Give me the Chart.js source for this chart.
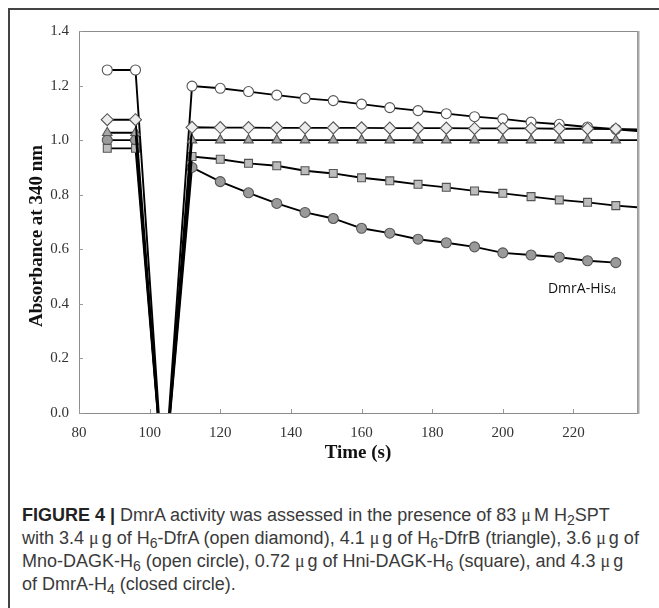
<!DOCTYPE html>
<html lang="en">
  <head>
    <meta charset="UTF-8" />
    <script src="https://cdn.jsdelivr.net/npm/chart.js@4/dist/chart.umd.min.js"></script>
    <title>DmrA activity</title>
    <style>
      body { margin: 0; background: #fff; width: 659px; height: 608px; overflow: hidden; position: relative; }
      #frame { position: absolute; left: 8px; top: 8px; width: 660px; height: 610px;
               border-top: 2px solid #444; border-left: 2px solid #444; }
      #chart { position: absolute; left: 0; top: 0; }
      #caption { position: absolute; left: 22px; top: 504px; font-family: "Liberation Sans", Arial, sans-serif;
                 font-size: 18px; line-height: 23px; color: #3a3a3a; white-space: nowrap; }
      #caption b { font-weight: 700; color: #222; }
      #caption sub { font-size: 0.78em; vertical-align: -0.3em; line-height: 0; }
      .mu { font-family: "Liberation Serif", serif; margin-right: 3px; }
    </style>
  </head>
  <body>
    <div id="frame"></div>
    <canvas id="chart" width="659" height="470"></canvas>
    <div id="caption"><b>FIGURE 4 |</b> DmrA activity was assessed in the presence of 83 <span class="mu">μ</span>M H<sub>2</sub>SPT<br>with 3.4 <span class="mu">μ</span>g of H<sub>6</sub>-DfrA (open diamond), 4.1 <span class="mu">μ</span>g of H<sub>6</sub>-DfrB (triangle), 3.6 <span class="mu">μ</span>g of<br>Mno-DAGK-H<sub>6</sub> (open circle), 0.72 <span class="mu">μ</span>g of Hni-DAGK-H<sub>6</sub> (square), and 4.3 <span class="mu">μ</span>g<br>of DmrA-H<sub>4</sub> (closed circle).</div>
    <script>
      // time points (s); 104 is the off-scale dip while reagent was added
      const times = [88, 96, 104, 112, 120, 128, 136, 144, 152, 160, 168, 176, 184, 192, 200, 208, 216, 224, 232, 240];
      const dfrA = [1.075, 1.075, -0.27, 1.047, 1.046, 1.046, 1.045, 1.045, 1.045, 1.045, 1.044, 1.044, 1.044, 1.043, 1.043, 1.043, 1.042, 1.042, 1.041, 1.038];
      const dfrB = [1.027, 1.027, -0.27, 1.0, 1.0, 1.0, 1.0, 1.0, 1.0, 1.0, 1.0, 1.0, 1.0, 1.0, 1.0, 1.0, 1.0, 1.0, 1.0, 1.0];
      const mnoDagk = [1.257, 1.257, -0.27, 1.198, 1.19, 1.178, 1.165, 1.153, 1.145, 1.132, 1.119, 1.108, 1.097, 1.086, 1.078, 1.066, 1.058, 1.048, 1.04, 1.031];
      const hniDagk = [0.97, 0.97, -0.27, 0.94, 0.93, 0.915, 0.906, 0.888, 0.878, 0.862, 0.851, 0.838, 0.827, 0.814, 0.805, 0.793, 0.781, 0.772, 0.76, 0.752];
      const dmrA = [1.0, 1.0, -0.27, 0.9, 0.848, 0.807, 0.768, 0.735, 0.713, 0.677, 0.659, 0.637, 0.624, 0.609, 0.587, 0.579, 0.571, 0.558, 0.551, null];
      const xTicks = [80, 100, 120, 140, 160, 180, 200, 220];
      const yTicks = [0, 0.2, 0.4, 0.6, 0.8, 1.0, 1.2, 1.4];
      const seriesLabel = { text: "DmrA-His", sub: "4", x: 232, y: 0.455 };

      const pts = (vals) => times.map((t, i) => ({ x: t, y: vals[i] }));
      const serif = "'Liberation Serif', 'Times New Roman', serif";

      function series(name, vals, style, fill, radius) {
        return {
          label: name,
          data: pts(vals),
          borderColor: "#000",
          borderWidth: 1.9,
          pointStyle: style,
          pointRadius: radius,
          pointBackgroundColor: fill,
          pointBorderColor: "#555",
          pointBorderWidth: 1.1,
          clip: 0,
          spanGaps: false,
        };
      }

      const extras = {
        id: "extras",
        beforeDatasetsDraw(chart) {
          const { ctx, chartArea: a, scales } = chart;
          ctx.save();
          ctx.strokeStyle = "#8c8c8c";
          ctx.lineWidth = 1;
          ctx.strokeRect(a.left + 0.5, a.top + 0.5, a.width, a.height);
          ctx.strokeStyle = "#aaa";
          ctx.lineWidth = 2;
          ctx.beginPath();
          ctx.moveTo(a.right + 1.5, a.top);
          ctx.lineTo(a.right + 1.5, a.bottom + 1);
          ctx.stroke();
          // inward tick marks
          ctx.strokeStyle = "#999";
          ctx.lineWidth = 1;
          ctx.beginPath();
          xTicks.forEach((v) => {
            const px = Math.round(scales.x.getPixelForValue(v)) + 0.5;
            ctx.moveTo(px, a.bottom);
            ctx.lineTo(px, a.bottom - 4);
          });
          yTicks.forEach((v) => {
            const py = Math.round(scales.y.getPixelForValue(v)) + 0.5;
            ctx.moveTo(a.left, py);
            ctx.lineTo(a.left + 4, py);
          });
          ctx.stroke();
          ctx.restore();
        },
        afterDraw(chart) {
          const { ctx, chartArea: a, scales } = chart;
          ctx.save();
          ctx.fillStyle = "#111";
          ctx.font = "bold 19px " + serif;
          ctx.textAlign = "center";
          ctx.textBaseline = "middle";
          ctx.fillText("Time (s)", (a.left + a.right) / 2, 453);
          ctx.translate(37, 236);
          ctx.rotate(-Math.PI / 2);
          ctx.fillText("Absorbance at 340 nm", 0, 0);
          ctx.restore();

          // series label
          ctx.save();
          const lx = scales.x.getPixelForValue(seriesLabel.x);
          const ly = scales.y.getPixelForValue(seriesLabel.y);
          ctx.fillStyle = "#111";
          ctx.textBaseline = "middle";
          ctx.font = "9px 'Open Sans', sans-serif";
          const sw = ctx.measureText(seriesLabel.sub).width;
          ctx.textAlign = "right";
          ctx.fillText(seriesLabel.sub, lx, ly + 3);
          ctx.font = "14px 'Open Sans', sans-serif";
          ctx.fillText(seriesLabel.text, lx - sw, ly);
          ctx.restore();
        },
      };

      new Chart(document.getElementById("chart"), {
        type: "line",
        data: {
          datasets: [
            series("H6-DfrA", dfrA, "rectRot", "#ececec", 6),
            series("H6-DfrB", dfrB, "triangle", "#a8a8a8", 5.5),
            series("Mno-DAGK-H6", mnoDagk, "circle", "#fff", 5),
            series("Hni-DAGK-H6", hniDagk, "rect", "#bcbcbc", 5.6),
            series("DmrA-H4", dmrA, "circle", "#9a9a9a", 5),
          ],
        },
        options: {
          responsive: false,
          animation: false,
          devicePixelRatio: 1,
          layout: { padding: { left: 0, top: 31, right: 22, bottom: 0 } },
          plugins: { legend: { display: false }, tooltip: { enabled: false } },
          scales: {
            x: {
              type: "linear",
              min: 80,
              max: 238,
              afterFit: (s) => { s.height = 57; },
              afterBuildTicks: (s) => { s.ticks = xTicks.map((v) => ({ value: v })); },
              grid: { display: false, drawTicks: false },
              border: { display: false },
              ticks: { padding: 11, color: "#333", font: { family: serif, size: 15 }, maxRotation: 0 },
            },
            y: {
              min: 0,
              max: 1.4,
              afterFit: (s) => { s.width = 79; },
              afterBuildTicks: (s) => { s.ticks = yTicks.map((v) => ({ value: v })); },
              grid: { display: false, drawTicks: false },
              border: { display: false },
              ticks: { padding: 10, color: "#333", font: { family: serif, size: 15 }, callback: (v) => v.toFixed(1) },
            },
          },
        },
        plugins: [extras],
      });
    </script>
  </body>
</html>
